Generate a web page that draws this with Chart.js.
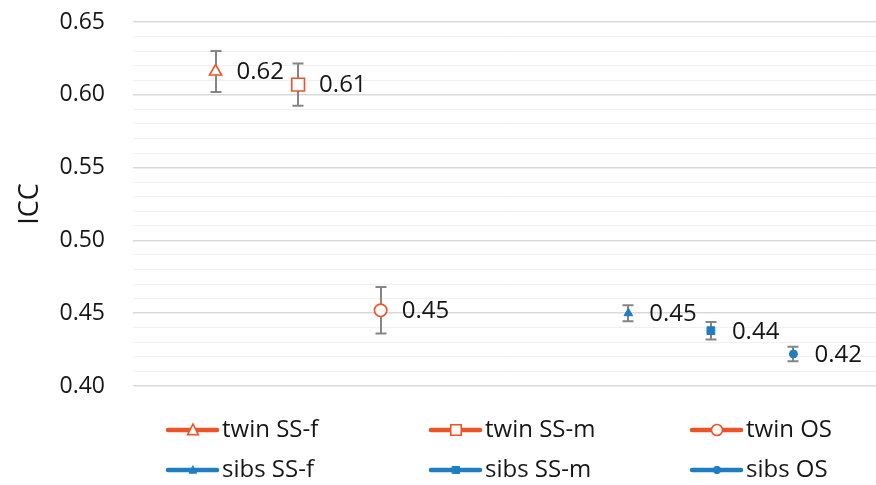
<!DOCTYPE html>
<html>
<head>
<meta charset="utf-8">
<script src="https://cdn.jsdelivr.net/npm/chart.js@4/dist/chart.umd.min.js"></script>
<style>
  html, body { margin: 0; padding: 0; background: #ffffff; }
  #wrap { width: 876px; height: 485px; position: relative; }
</style>
</head>
<body>
<div id="wrap"><canvas id="icc"></canvas></div>
<script>
// Groups, their slot on the horizontal axis, ICC estimates and half-widths of the error bars
const groups   = ['twin SS-f', 'twin SS-m', 'twin OS', 'sibs SS-f', 'sibs SS-m', 'sibs OS'];
const slots    = [1, 2, 3, 6, 7, 8];
const iccValue = [0.616, 0.607, 0.452, 0.450, 0.438, 0.422];
const iccError = [0.014, 0.0145, 0.016, 0.0055, 0.006, 0.005];
const yTicks   = [0.40, 0.45, 0.50, 0.55, 0.60, 0.65];

const ORANGE = '#EE5326';
const BLUE = '#1F7DC1';
const INK = '#161616';
const FONT = "'Open Sans', 'DejaVu Sans', sans-serif";

const shapes = ['triangle', 'rect', 'circle', 'triangle', 'rect', 'circle'];
const isTwin = g => g.startsWith('twin');

// Marker radius per shape; Chart.js draws 'rect' inscribed in the radius, so it needs more
const markerRadius = (g, shape) => {
  const big = { triangle: 7, rect: 9, circle: 6.2 };
  const small = { triangle: 5, rect: 5.5, circle: 4 };
  return (isTwin(g) ? big : small)[shape];
};

function drawShape(ctx, style, cx, cy, r) {
  if (style === 'triangle') {
    ctx.moveTo(cx, cy - r);
    ctx.lineTo(cx + r * 0.9, cy + r * 0.8);
    ctx.lineTo(cx - r * 0.9, cy + r * 0.8);
    ctx.closePath();
  } else if (style === 'rect') {
    ctx.rect(cx - r * 0.88, cy - r * 0.88, r * 1.76, r * 1.76);
  } else {
    ctx.arc(cx, cy, r * 0.92, 0, Math.PI * 2);
  }
}

const datasets = groups.map((g, i) => ({
  label: g,
  data: [{ x: slots[i], y: iccValue[i] }],
  pointStyle: shapes[i],
  pointRadius: markerRadius(g, shapes[i]),
  pointBorderWidth: isTwin(g) ? 1.6 : 1,
  borderColor: isTwin(g) ? ORANGE : BLUE,
  backgroundColor: isTwin(g) ? '#ffffff' : BLUE,
  pointBackgroundColor: isTwin(g) ? '#ffffff' : BLUE,
  pointBorderColor: isTwin(g) ? ORANGE : BLUE,
  showLine: false
}));

// Vertical error bars with caps, drawn beneath the markers
const errorBars = {
  id: 'errorBars',
  beforeDatasetsDraw(chart) {
    const { ctx, scales: { x, y } } = chart;
    ctx.save();
    ctx.strokeStyle = '#858585';
    ctx.lineWidth = 2;
    iccValue.forEach((v, i) => {
      const px = Math.round(x.getPixelForValue(slots[i]));
      const top = y.getPixelForValue(v + iccError[i]);
      const bot = y.getPixelForValue(v - iccError[i]);
      ctx.beginPath();
      ctx.moveTo(px, top); ctx.lineTo(px, bot);
      ctx.moveTo(px - 5.5, top); ctx.lineTo(px + 5.5, top);
      ctx.moveTo(px - 5.5, bot); ctx.lineTo(px + 5.5, bot);
      ctx.stroke();
    });
    ctx.restore();
  }
};

// Value labels to the right of each marker
const valueLabels = {
  id: 'valueLabels',
  afterDatasetsDraw(chart) {
    const { ctx, scales: { x, y } } = chart;
    ctx.save();
    ctx.fillStyle = INK;
    ctx.font = `24px ${FONT}`;
    ctx.textAlign = 'left';
    ctx.textBaseline = 'middle';
    iccValue.forEach((v, i) => {
      ctx.fillText(v.toFixed(2), x.getPixelForValue(slots[i]) + 21, y.getPixelForValue(v) + 1);
    });
    ctx.restore();
  }
};

// Three-column legend below the plot: a short line carrying the marker, then the name
const gridLegend = {
  id: 'gridLegend',
  afterDraw(chart) {
    const { ctx, chartArea } = chart;
    const colX = [chartArea.left + 35, chartArea.left + 298, chartArea.left + 559];
    const rowY = [chartArea.bottom + 44, chartArea.bottom + 84];
    ctx.save();
    chart.data.datasets.forEach((ds, i) => {
      const x0 = colX[i % 3], yy = rowY[Math.floor(i / 3)];
      const twin = isTwin(ds.label);
      ctx.strokeStyle = ds.pointBorderColor;
      ctx.lineWidth = 4.5;
      ctx.lineCap = 'round';
      ctx.beginPath();
      ctx.moveTo(x0, yy); ctx.lineTo(x0 + 49, yy);
      ctx.stroke();
      ctx.fillStyle = ds.pointBackgroundColor;
      ctx.lineWidth = twin ? 1.6 : 1;
      ctx.beginPath();
      drawShape(ctx, ds.pointStyle, x0 + 25, yy, twin ? 6 : 4);
      ctx.fill();
      ctx.stroke();
      ctx.fillStyle = INK;
      ctx.font = `24px ${FONT}`;
      ctx.textAlign = 'left';
      ctx.textBaseline = 'middle';
      ctx.fillText(ds.label, x0 + 54, yy);
    });
    ctx.restore();
  }
};

new Chart(document.getElementById('icc'), {
  type: 'scatter',
  data: { datasets },
  options: {
    responsive: true,
    maintainAspectRatio: false,
    animation: false,
    layout: { autoPadding: false, padding: { top: 0, right: 0, bottom: 99, left: 14 } },
    plugins: {
      legend: { display: false },
      tooltip: { enabled: false }
    },
    scales: {
      x: {
        type: 'linear',
        min: 0,
        max: 9,
        display: false
      },
      y: {
        min: yTicks[0],
        max: yTicks[yTicks.length - 1],
        border: { display: false },
        afterFit: axis => {
          axis.width = 119;
          axis.paddingTop = 22;
          axis.paddingBottom = 0;
        },
        grid: {
          drawTicks: false,
          color: ctx => (Math.round(ctx.tick.value * 100) % 5 === 0 ? '#d9d9d9' : '#f0f0f0'),
          lineWidth: ctx => (Math.round(ctx.tick.value * 100) % 5 === 0 ? 1.5 : 1)
        },
        afterBuildTicks: axis => {
          const t = [];
          for (let k = 40; k <= 65; k++) t.push({ value: k / 100 });
          axis.ticks = t;
        },
        ticks: {
          autoSkip: false,
          padding: 28,
          color: INK,
          font: { family: FONT, size: 23 },
          callback: v => {
            const hit = yTicks.find(t => Math.abs(t - v) < 1e-9);
            return hit !== undefined ? hit.toFixed(2) : '';
          }
        },
        title: {
          display: true,
          text: 'ICC',
          color: INK,
          font: { family: FONT, size: 27 },
          padding: { top: 0, bottom: 0 }
        }
      }
    }
  },
  plugins: [errorBars, valueLabels, gridLegend]
});
</script>
</body>
</html>
